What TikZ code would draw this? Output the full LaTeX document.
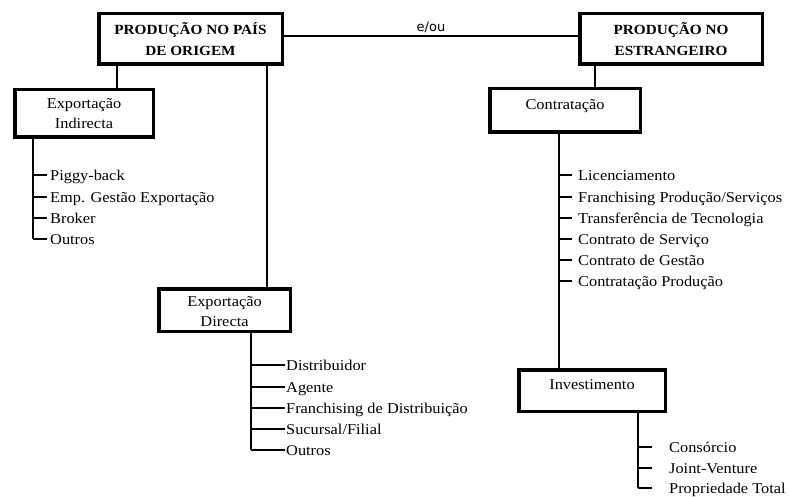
\documentclass[tikz,border=0pt]{standalone}
\usepackage{fontspec}
\setmainfont{Liberation Serif}[FakeStretch=1.09]
\newfontfamily\labelsans{DejaVu Sans}
\begin{document}
\begin{tikzpicture}[x=1pt,y=-1pt,
  hub/.style={draw, line width=3.5pt, inner sep=0pt, align=center,
    font=\bfseries\fontsize{14}{21}\selectfont},
  unit/.style={draw, line width=3.5pt, inner sep=0pt, align=center,
    font=\fontsize{15}{20}\selectfont},
  entry/.style={anchor=west, inner sep=0pt, text height=10pt, text depth=0pt,
    font=\fontsize{15}{21}\selectfont},
  link/.style={line width=1.3pt}]
\useasboundingbox (0,0) rectangle (789,497);

% main boxes
\node[hub, minimum width=183.5pt, minimum height=50.5pt] (origem) at (190.5,39)
  {PRODUÇÃO NO PAÍS\\DE ORIGEM};
\node[hub, minimum width=182.5pt, minimum height=50.5pt] (estrangeiro) at (671,39)
  {PRODUÇÃO NO\\ESTRANGEIRO};

% second level boxes
\node[unit, minimum width=138.5pt, minimum height=47.5pt] (indirecta) at (84,113.5)
  {Exportação\\Indirecta};
\node[unit, minimum width=131.5pt, minimum height=42.5pt] (directa) at (224.5,310)
  {\rule{0pt}{13pt}Exportação\\Directa};
\node[unit, minimum width=150.5pt, minimum height=43.5pt] (contratacao) at (565,110.5)
  {Contratação\\[-8pt]~};
\node[unit, minimum width=146.5pt, minimum height=41.5pt] (investimento) at (592,390.5)
  {Investimento\\[-8pt]~};

% top link
\draw[link] ([yshift=3pt]origem.east) -- ([yshift=3pt]estrangeiro.west)
  node[midway, above=3pt, inner sep=0pt, font=\labelsans\fontsize{13}{15}\selectfont] {e/ou};

% hierarchy links
\draw[link] ([xshift=-73.5pt]origem.south) -- ([xshift=-73.5pt]origem.south |- indirecta.north);
\draw[link] ([xshift=76.5pt]origem.south) -- ([xshift=76.5pt]origem.south |- directa.north);
\draw[link] ([xshift=-76pt]estrangeiro.south) -- ([xshift=-76pt]estrangeiro.south |- contratacao.north);
\draw[link] ([xshift=-6pt]contratacao.south) -- ([xshift=-6pt]contratacao.south |- investimento.north);

% Exportação Indirecta list
\coordinate (iv) at ([xshift=-51pt]indirecta.south);
\node[entry] (i1) at (50,175) {Piggy-back};
\node[entry] (i2) at (50,197) {Emp. Gestão Exportação};
\node[entry] (i3) at (50,218) {Broker};
\node[entry] (i4) at (50,239) {Outros};
\draw[link] (iv) -- (iv |- i4.west);
\foreach \k in {i1,i2,i3,i4}
  \draw[link] ([xshift=-3pt]\k.west) -- (\k.west -| iv);

% Exportação Directa list
\coordinate (dv) at ([xshift=26.5pt]directa.south);
\node[entry] (e1) at (286,365) {Distribuidor};
\node[entry] (e2) at (286,387) {Agente};
\node[entry] (e3) at (286,408) {Franchising de Distribuição};
\node[entry] (e4) at (286,429) {Sucursal/Filial};
\node[entry] (e5) at (286,450) {Outros};
\draw[link] (dv) -- (dv |- e5.west);
\foreach \k in {e1,e2,e3,e4,e5}
  \draw[link] ([xshift=-1pt]\k.west) -- (\k.west -| dv);

% Contratação list
\coordinate (cv) at ([xshift=-6pt]contratacao.south);
\node[entry] (c1) at (578,175) {Licenciamento};
\node[entry] (c2) at (578,197) {Franchising Produção/Serviços};
\node[entry] (c3) at (578,218) {Transferência de Tecnologia};
\node[entry] (c4) at (578,239) {Contrato de Serviço};
\node[entry] (c5) at (578,260) {Contrato de Gestão};
\node[entry] (c6) at (578,281) {Contratação Produção};
\foreach \k in {c1,c2,c3,c4,c5,c6}
  \draw[link] ([xshift=-6pt]\k.west) -- (\k.west -| cv);

% Investimento list
\coordinate (nv) at ([xshift=46pt]investimento.south);
\node[entry] (n1) at (669,447) {Consórcio};
\node[entry] (n2) at (669,468) {Joint-Venture};
\node[entry] (n3) at (669,488) {Propriedade Total};
\draw[link] (nv) -- (nv |- n3.west);
\foreach \k in {n1,n2,n3}
  \draw[link] ([xshift=-17pt]\k.west) -- (\k.west -| nv);
\end{tikzpicture}
\end{document}
